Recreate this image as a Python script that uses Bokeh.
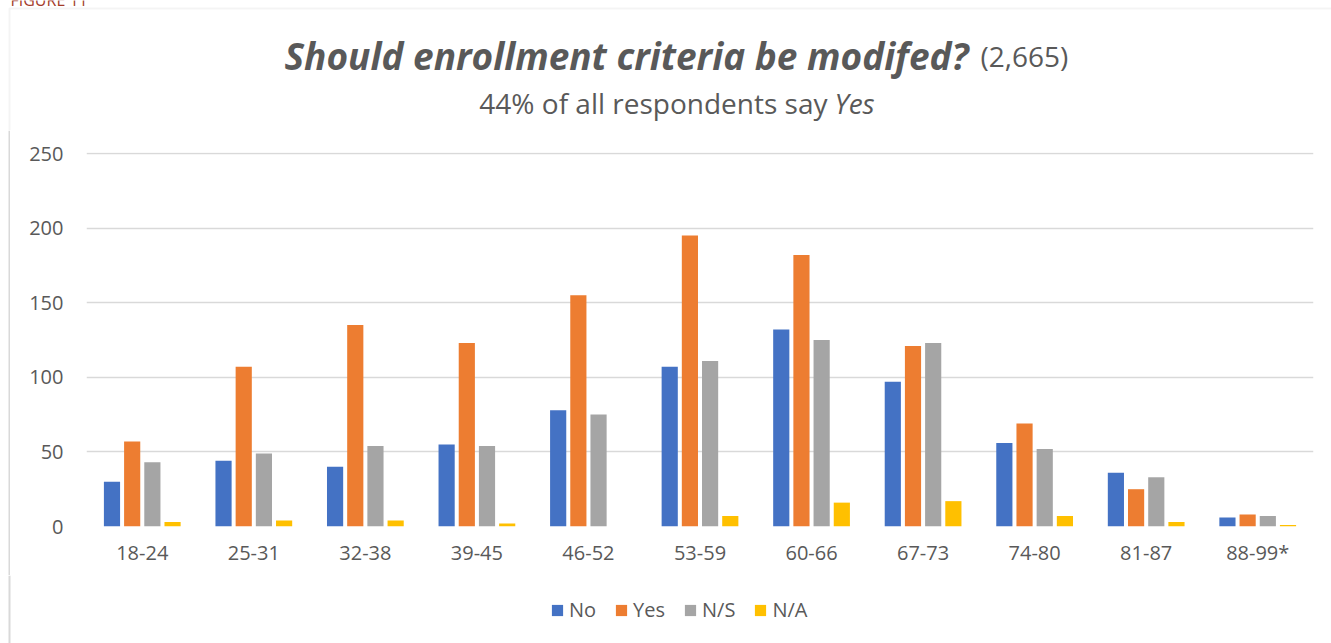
from bokeh.plotting import figure
from bokeh.layouts import column, row
from bokeh.models import (ColumnDataSource, FactorRange, Range1d, Label, Legend,
                          LegendItem, BoxAnnotation, Span, FixedTicker)
from bokeh.transform import dodge
from bokeh.embed import file_html
from bokeh.resources import INLINE

# ---- data ----
ages = ["18-24", "25-31", "32-38", "39-45", "46-52", "53-59",
        "60-66", "67-73", "74-80", "81-87", "88-99*"]
no_vals = [30, 44, 40, 55, 78, 107, 132, 97, 56, 36, 6]
yes_vals = [57, 107, 135, 123, 155, 195, 182, 121, 69, 25, 8]
ns_vals = [43, 49, 54, 54, 75, 111, 125, 123, 52, 33, 7]
na_vals = [3, 4, 4, 2, 0, 7, 16, 17, 7, 3, 1]
series = ["No", "Yes", "N/S", "N/A"]
y_ticks = [0, 50, 100, 150, 200, 250]

colors = ["#4472C4", "#ED7D31", "#A5A5A5", "#FFC000"]
TXT = "#595959"
FONT = "Open Sans"
BORDER = "#D9D9D9"


def flat(w, h):
    f = figure(width=w, height=h, x_range=Range1d(0, w), y_range=Range1d(h, 0),
               output_backend="svg", toolbar_location=None, title=None,
               min_border_left=0, min_border_right=0,
               min_border_top=0, min_border_bottom=0)
    f.axis.visible = False
    f.grid.visible = False
    f.outline_line_color = None
    f.background_fill_color = "white"
    f.border_fill_color = "white"
    return f


TH = 130          # title strip height
CH = 445          # chart figure height
LH = 643 - TH - CH
SW = 10           # left strip beside the chart (holds the frame's left edge)

# ---------------- title figure (top strip) ----------------
tf = flat(1331, TH)
tf.add_layout(BoxAnnotation(left=9, right=5000, top=8, bottom=5000,
                            fill_alpha=0, line_color=BORDER, line_width=2))
tf.add_layout(Label(x=10, y=-1, text="FIGURE 11", text_align="left",
                    text_baseline="alphabetic", text_font=FONT,
                    text_font_size="16px", text_color="#A33B2A"))
tf.add_layout(Label(x=968, y=55, text="Should enrollment criteria be modifed?",
                    text_align="right", text_baseline="alphabetic",
                    text_font=FONT, text_font_style="bold italic",
                    text_font_size="37px", text_color=TXT))
tf.add_layout(Label(x=980, y=55, text="(2,665)", text_align="left",
                    text_baseline="alphabetic", text_font=FONT,
                    text_font_size="28px", text_color=TXT))
tf.add_layout(Label(x=827, y=102, text="44% of all respondents say",
                    text_align="right", text_baseline="alphabetic",
                    text_font=FONT, text_font_size="28px", text_color=TXT))
tf.add_layout(Label(x=834, y=102, text="Yes", text_align="left",
                    text_baseline="alphabetic", text_font=FONT,
                    text_font_style="italic", text_font_size="28px",
                    text_color=TXT))

# ---------------- left strip beside the chart ----------------
sf = flat(SW, CH)
sf.add_layout(Span(location=9, dimension="height", line_color=BORDER,
                   line_width=2))

# ---------------- chart figure ----------------
source = ColumnDataSource(dict(age=ages, No=no_vals, Yes=yes_vals,
                               NS=ns_vals, NA=na_vals))
cols = ["No", "Yes", "NS", "NA"]

p = figure(width=1331 - SW, height=CH, x_range=FactorRange(*ages),
           y_range=Range1d(0, 250.7), output_backend="svg",
           toolbar_location=None, title=None,
           min_border_left=86 - SW, min_border_right=18,
           min_border_top=152 - TH, min_border_bottom=TH + CH - 526)
p.x_range.range_padding = 0
p.outline_line_color = None
p.background_fill_color = "white"
p.border_fill_color = "white"

p.xgrid.grid_line_color = None
p.ygrid.grid_line_color = BORDER
p.ygrid.grid_line_width = 1.5
p.yaxis.ticker = FixedTicker(ticks=y_ticks)

for ax in (p.xaxis, p.yaxis):
    ax.axis_line_color = None
    ax.major_tick_line_color = None
    ax.minor_tick_line_color = None
    ax.major_tick_out = 0
    ax.major_tick_in = 0
    ax.major_label_text_color = TXT
    ax.major_label_text_font = FONT
    ax.major_label_text_font_size = "20px"
p.yaxis.major_label_standoff = 23
p.xaxis.major_label_standoff = 12

offsets = [-0.2715, -0.0905, 0.0905, 0.2715]
for c, col, off in zip(cols, colors, offsets):
    p.vbar(x=dodge("age", off, range=p.x_range), top=c, width=0.145,
           source=source, fill_color=col, line_color=None)

# ---------------- legend figure (bottom strip) ----------------
lf = flat(1331, LH)
lf.add_layout(Span(location=9, dimension="height", line_color=BORDER,
                   line_width=2))
items = []
for s, col in zip(series, colors):
    # zero-size proxy glyph: only supplies the swatch style to the legend
    r = lf.vbar(x=[0], top=[0], bottom=[0], width=0, fill_color=col,
                line_color=None)
    items.append(LegendItem(label=s, renderers=[r]))
legend = Legend(items=items, orientation="horizontal", location=(550, 20),
                glyph_width=14, glyph_height=14, label_standoff=5, spacing=18,
                padding=0, margin=0, border_line_color=None,
                background_fill_alpha=0, label_text_font_size="20px",
                label_text_color=TXT, label_text_font=FONT)
lf.add_layout(legend)

layout = column(tf, row(column(sf), p), lf)
open("out.html", "w").write(file_html(layout, INLINE))
